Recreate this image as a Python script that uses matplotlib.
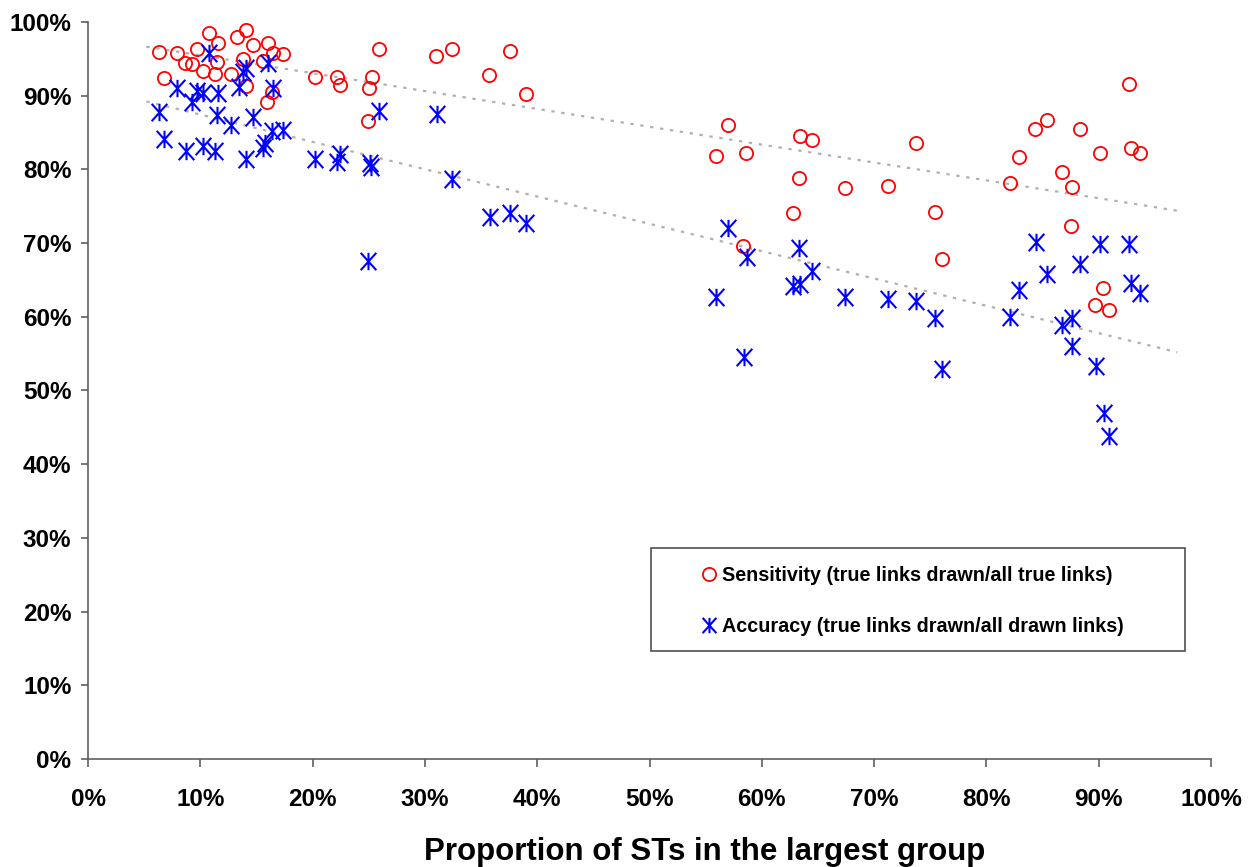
import matplotlib.pyplot as plt
import numpy as np
from matplotlib.path import Path
from matplotlib.lines import Line2D
from matplotlib.patches import Rectangle
from matplotlib.ticker import PercentFormatter

# 最大グループに属するSTの割合 (%) と感度 (%)
sens_x = [6.3, 6.8, 7.9, 8.6, 9.3, 9.7, 10.2, 10.8, 11.3, 11.6, 11.5, 12.7,
          13.3, 14.1, 13.8, 14.1, 14.7, 15.6, 16.0, 16.5, 17.4, 16.4, 15.9,
          20.2, 22.2, 22.4, 25.9, 25.3, 25.0, 24.9, 31.0, 32.4, 35.7, 37.6, 39.0,
          57.0, 55.9, 58.6, 63.4, 64.5, 63.3, 62.8, 67.4, 71.2, 73.7, 75.4, 76.0, 58.3,
          92.7, 84.3, 85.4, 88.3, 82.9, 90.1, 92.9, 93.7, 82.1, 86.7, 87.6, 87.5,
          90.4, 89.7, 90.9]
sens_y = [95.9, 92.4, 95.8, 94.5, 94.3, 96.4, 93.4, 98.5, 93.0, 97.1, 94.6, 93.0,
          98.0, 98.9, 95.0, 91.3, 96.9, 94.7, 97.1, 95.8, 95.6, 90.5, 89.1,
          92.5, 92.5, 91.4, 96.3, 92.5, 91.0, 86.6, 95.4, 96.3, 92.8, 96.1, 90.3,
          86.0, 81.8, 82.2, 84.5, 84.0, 78.8, 74.1, 77.5, 77.7, 83.6, 74.2, 67.8, 69.6,
          91.6, 85.5, 86.7, 85.5, 81.7, 82.2, 82.9, 82.2, 78.2, 79.6, 77.6, 72.3,
          63.9, 61.6, 60.9]

# 最大グループに属するSTの割合 (%) と正確度 (%)
acc_x = [10.8, 7.9, 6.3, 6.8, 9.3, 9.7, 10.2, 11.6, 8.7, 10.2, 11.3, 11.5,
         12.7, 13.4, 13.8, 14.1, 14.7, 14.1, 16.0, 16.5, 15.6, 15.8, 16.4, 17.4,
         25.9, 31.1, 20.2, 22.2, 22.4, 25.1, 25.2, 32.4, 35.8, 37.6, 39.0, 24.9,
         57.0, 58.7, 63.3, 64.5, 62.8, 63.4, 55.9, 67.4, 71.2, 73.7, 75.4, 58.4, 76.0,
         84.4, 90.1, 92.7, 85.4, 88.3, 82.9, 92.9, 93.7, 82.1, 86.7, 87.6, 87.6,
         89.8, 90.5, 90.9]
acc_y = [95.8, 91.0, 87.8, 84.1, 89.1, 90.6, 90.4, 90.4, 82.5, 83.2, 82.5, 87.4,
         86.0, 91.2, 93.2, 93.8, 87.1, 81.4, 94.4, 91.0, 82.9, 83.6, 85.2, 85.3,
         87.9, 87.5, 81.4, 81.0, 82.1, 80.9, 80.3, 78.7, 73.5, 74.1, 72.7, 67.6,
         72.0, 68.1, 69.3, 66.2, 64.2, 64.4, 62.7, 62.7, 62.4, 62.1, 59.8, 54.5, 52.9,
         70.1, 69.9, 69.9, 65.8, 67.2, 63.6, 64.6, 63.2, 60.0, 58.9, 59.8, 56.0,
         53.3, 46.9, 43.8]

sens_label = "Sensitivity (true links drawn/all true links)"
acc_label = "Accuracy (true links drawn/all drawn links)"
x_title = "Proportion of STs in the largest group"

plt.rcParams["font.family"] = ["Liberation Sans", "DejaVu Sans"]
plt.rcParams["font.weight"] = "bold"

# アスタリスク型マーカー（X と縦線）
asterisk = Path([(-0.9, -1), (0.9, 1), (-0.9, 1), (0.9, -1), (0, -1), (0, 1)],
                [Path.MOVETO, Path.LINETO, Path.MOVETO, Path.LINETO,
                 Path.MOVETO, Path.LINETO])

fig = plt.figure(figsize=(12.49, 8.67), dpi=100)
ax = fig.add_axes([0.0705, 0.1246, 0.8991, 0.85])

# 線形近似（点線）
fit_x = np.array([5.2, 97.0])
for xs, ys in [(sens_x, sens_y), (acc_x, acc_y)]:
    a, b = np.polyfit(xs, ys, 1)
    ax.plot(fit_x, a * fit_x + b, color="#b0b0b0", lw=1.6,
            linestyle=(0, (1.5, 3)), zorder=1)

ax.plot(sens_x, sens_y, linestyle="none", marker="o", markersize=9.5,
        markerfacecolor="none", markeredgecolor="#ff0000", markeredgewidth=1.3,
        zorder=2)
ax.plot(acc_x, acc_y, linestyle="none", marker=asterisk, markersize=12.5,
        markerfacecolor="none", markeredgecolor="#0000ff", markeredgewidth=1.5,
        zorder=3)

ax.set_xlim(0, 100)
ax.set_ylim(0, 100)
ax.set_xticks(np.arange(0, 101, 10))
ax.set_yticks(np.arange(0, 101, 10))
ax.xaxis.set_major_formatter(PercentFormatter(decimals=0))
ax.yaxis.set_major_formatter(PercentFormatter(decimals=0))
for s in ["top", "right"]:
    ax.spines[s].set_visible(False)
for s in ["left", "bottom"]:
    ax.spines[s].set_color("#606060")
    ax.spines[s].set_linewidth(1.2)
ax.tick_params(axis="x", length=6, width=1.2, color="#606060", pad=15,
               labelsize=17.5)
ax.tick_params(axis="y", length=5, width=1.2, color="#606060", pad=7,
               labelsize=17.5)
for lab in ax.get_xticklabels() + ax.get_yticklabels():
    lab.set_fontweight("bold")

fig.text(705 / 1249, 0.0085, x_title, ha="center", va="baseline",
         fontsize=22.5, fontweight="bold")

# 凡例（枠は別に描く）
ax.add_patch(Rectangle((0.501, 0.1465), 0.476, 0.1398, transform=ax.transAxes,
                       facecolor="white", edgecolor="#505050", lw=1.2, zorder=4))
handles = [
    Line2D([], [], linestyle="none", marker="o", markersize=9.5,
           markerfacecolor="none", markeredgecolor="#ff0000", markeredgewidth=1.3),
    Line2D([], [], linestyle="none", marker=asterisk, markersize=11,
           markerfacecolor="none", markeredgecolor="#0000ff", markeredgewidth=1.5),
]
leg = ax.legend(handles, [sens_label, acc_label], loc="center left",
                bbox_to_anchor=(0.537, 0.2144), frameon=False,
                prop={"size": 14.2, "weight": "bold"}, handlelength=0.8,
                handletextpad=0.25, labelspacing=1.65, borderpad=0)
leg.set_zorder(5)

fig.savefig("out.png", dpi=100)
